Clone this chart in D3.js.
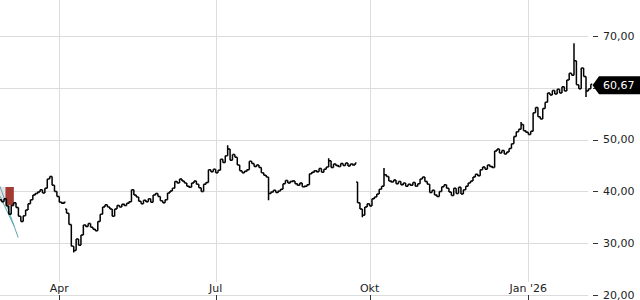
<!DOCTYPE html>
<html>
<head>
<meta charset="utf-8">
<script src="https://cdn.jsdelivr.net/npm/d3@7"></script>
<style>
  html, body { margin: 0; padding: 0; background: #fff; }
  svg { display: block; font-family: "DejaVu Sans", sans-serif; }
</style>
</head>
<body>
<div id="chart"></div>
<script>
// daily closes, one entry per trading day, split by period
const closesMar = [38.4, 38.0, 38.6, 37.2, 35.6, 37.3, 37.8, 36.9, 35.2, 34.2, 35.3, 36.4, 37.6, 38.4, 39.3, 39.6, 39.9, 40.3, 39.7, 40.6, 42.4, 42.9, 41.2, 40.0, 39.0];
const closesQ2 = [37.9, 37.7, 37.9, 35.8, 33.6, 29.4, 28.6, 30.8, 29.6, 31.6,
  33.5, 33.2, 33.8, 33.1, 32.7, 32.4, 34.2, 35.6, 37.0, 37.4,
  37.0, 36.6, 35.2, 36.6, 37.3, 37.0, 37.5, 37.3, 37.7, 38.0,
  40.3, 39.3, 38.9, 38.1, 37.6, 38.3, 38.0, 38.6, 37.9, 39.3,
  39.6, 39.0, 38.2, 37.8, 38.4, 39.7, 40.1, 40.6, 41.9, 41.6,
  42.4, 42.0, 41.6, 41.0, 40.8, 41.6, 42.0, 41.4, 40.7, 40.0,
  41.4, 41.7, 44.2, 43.8, 44.3];
const closesQ3 = [43.6, 44.1, 46.2, 45.6, 46.9, 48.2, 46.0, 47.1, 46.6, 45.1,
  44.0, 43.6, 43.9, 44.2, 45.8, 45.4, 44.8, 45.1, 44.6, 43.6,
  43.1, 42.8, 39.6, 39.9, 40.2, 39.8, 40.1, 40.4, 41.5, 42.1,
  41.6, 41.9, 42.0, 41.5, 41.2, 41.6, 40.9, 41.0, 41.3, 43.4,
  43.7, 44.0, 43.8, 44.4, 43.7, 44.3, 44.7, 45.9, 44.6, 45.3,
  45.0, 44.8, 45.4, 45.0, 45.5, 44.9, 45.3, 45.1, 45.5, 37.8,
  36.6, 35.4, 37.0, 37.6];
const closesQ4 = [37.2, 38.6, 38.9, 39.5, 40.4, 41.0, 43.2, 42.9, 42.0, 41.8,
  42.2, 41.5, 41.9, 41.3, 41.6, 41.0, 41.4, 41.2, 41.7, 41.0,
  41.5, 42.4, 42.8, 41.9, 41.4, 39.8, 40.2, 39.3, 39.0, 40.0,
  40.9, 41.3, 40.6, 39.9, 39.2, 40.6, 39.6, 40.8, 39.5, 40.3,
  41.0, 41.6, 42.0, 42.8, 43.3, 43.0, 44.2, 44.7, 44.3, 45.1,
  44.8, 44.6, 47.8, 48.2, 47.4, 47.9, 47.2, 47.6, 48.3, 49.2,
  50.6, 51.5, 52.0, 52.9, 51.7, 51.4];
const closesJan = [51.0, 51.6, 55.2, 56.2, 54.4, 54.0, 56.0, 57.2, 59.0, 58.6,
  59.5, 58.8, 59.7, 59.0, 60.2, 59.4, 61.5, 62.8, 62.4, 65.2,
  60.6, 59.8, 63.8, 62.2, 59.4, 59.8, 60.67];

const periods = [closesMar, closesQ2, closesQ3, closesQ4, closesJan];
const periodLabels = [null, "Apr", "Jul", "Okt", "Jan '26"];

// opening gaps [bar index, open] and intraday extremes [bar index, value]
const gapOpens = [[28, 36.6], [149, 41.8]];
const extremes = [[31, 28.2], [95, 48.9], [112, 38.3], [137, 46.4], [151, 35.0], [160, 44.5], [217, 53.4], [239, 68.6], [244, 58.2]];

const yTicks = [20, 30, 40, 50, 60, 70];

// chart annotations (bar index, price)
const marker = { from: 2.6, to: 6.1, top: 40.85, bottom: 37.3 };
const shade = { from: 0.3, to: 2.6, top: 40.85, bottom: 38.1 };
const channel = [[[0.3, 41.0], [7.9, 31.1]], [[0.3, 39.1], [6.2, 33.3]]];

const width = 640, height = 300;
const de = d3.formatLocale({ decimal: ",", thousands: ".", grouping: [3], currency: ["", " €"] });
const fmt = de.format(".2f");

const closes = periods.flat();
const gapMap = new Map(gapOpens);
const extMap = new Map(extremes);
const bars = closes.map((c, i) => {
  const o = gapMap.has(i) ? gapMap.get(i) : (i > 0 ? closes[i - 1] : c);
  let hi = Math.max(o, c), lo = Math.min(o, c);
  if (extMap.has(i)) { const e = extMap.get(i); hi = Math.max(hi, e); lo = Math.min(lo, e); }
  return { i, open: o, high: hi, low: lo, close: c };
});

const tickIdx = [];
let acc = 0;
periods.forEach((p, k) => { if (periodLabels[k]) tickIdx.push({ i: acc, label: periodLabels[k] }); acc += p.length; });

const x = d3.scaleLinear().domain([25, 220]).range([59.3, 528.3]);
const y = d3.scaleLinear().domain([20, 70]).range([295, 36]);

const last = closes[closes.length - 1];
const cy = y(last) + 1;

const svg = d3.select("#chart").append("svg")
  .attr("width", width).attr("height", height);

// horizontal grid
svg.append("g").selectAll("line").data(yTicks).enter().append("line")
  .attr("x1", 0).attr("x2", 588)
  .attr("y1", d => Math.round(y(d)) + 0.5).attr("y2", d => Math.round(y(d)) + 0.5)
  .attr("stroke", "#dcdcdc");

// vertical grid
svg.append("g").selectAll("line").data(tickIdx).enter().append("line")
  .attr("x1", d => Math.round(x(d.i)) + 0.5).attr("x2", d => Math.round(x(d.i)) + 0.5)
  .attr("y1", 0).attr("y2", 282)
  .attr("stroke", "#dcdcdc");

// x ticks + labels
svg.append("g").selectAll("line").data(tickIdx).enter().append("line")
  .attr("x1", d => Math.round(x(d.i)) + 0.5).attr("x2", d => Math.round(x(d.i)) + 0.5)
  .attr("y1", 295).attr("y2", 300)
  .attr("stroke", "#333");
svg.append("g").selectAll("text").data(tickIdx).enter().append("text")
  .attr("x", d => x(d.i)).attr("y", 292)
  .attr("text-anchor", "middle")
  .attr("font-size", 11).attr("fill", "#222")
  .text(d => d.label);

// y ticks + labels (label hidden where the last-price box covers it)
svg.append("g").selectAll("line").data(yTicks).enter().append("line")
  .attr("x1", 593).attr("x2", 598)
  .attr("y1", d => Math.round(y(d)) + 0.5).attr("y2", d => Math.round(y(d)) + 0.5)
  .attr("stroke", "#333");
svg.append("g").selectAll("text").data(yTicks.filter(t => Math.abs(y(t) - cy) > 14)).enter().append("text")
  .attr("x", 603).attr("y", d => y(d)).attr("dy", "0.35em")
  .attr("font-size", 11).attr("fill", "#222")
  .text(d => fmt(d));

// annotations
svg.append("rect")
  .attr("x", x(shade.from)).attr("width", x(shade.to) - x(shade.from))
  .attr("y", y(shade.top)).attr("height", y(shade.bottom) - y(shade.top))
  .attr("fill", "#e4e4e4");
svg.append("rect")
  .attr("x", x(marker.from)).attr("width", x(marker.to) - x(marker.from))
  .attr("y", y(marker.top)).attr("height", y(marker.bottom) - y(marker.top))
  .attr("fill", "#a13b33");
svg.append("g").selectAll("line").data(channel).enter().append("line")
  .attr("x1", d => x(d[0][0])).attr("y1", d => y(d[0][1]))
  .attr("x2", d => x(d[1][0])).attr("y2", d => y(d[1][1]))
  .attr("stroke", "#5fa5ae").attr("stroke-width", 1);

// OHLC bars
svg.append("g")
  .attr("stroke", "#000").attr("stroke-width", 1.5).attr("fill", "none")
  .selectAll("path").data(bars).enter().append("path")
  .attr("d", d => {
    const cx = x(d.i);
    let yh = y(d.high), yl = y(d.low);
    if (yl - yh < 2) { const m = (yh + yl) / 2; yh = m - 1; yl = m + 1; }
    return `M${cx},${yh}V${yl}M${cx - 1.4},${y(d.open)}H${cx}M${cx},${y(d.close)}H${cx + 1.4}`;
  });

// last price box
svg.append("path")
  .attr("d", `M592.5,${cy}L599,${cy - 9}H640V${cy + 9}H599Z`)
  .attr("fill", "#000");
svg.append("text")
  .attr("x", 603).attr("y", cy).attr("dy", "0.35em")
  .attr("font-size", 11).attr("fill", "#fff")
  .text(fmt(last));
</script>
</body>
</html>
